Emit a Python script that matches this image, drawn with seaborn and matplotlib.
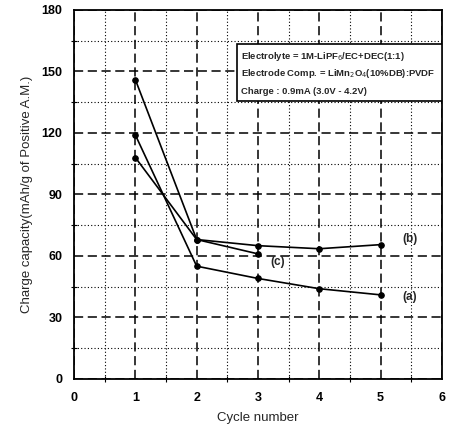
import matplotlib
matplotlib.use("Agg")
import matplotlib.pyplot as plt
import seaborn as sns
import pandas as pd
from matplotlib.ticker import MultipleLocator
from matplotlib.patches import Rectangle

cycles_a = [1, 2, 3, 4, 5]
cap_a = [119, 55, 49, 44, 41]
cycles_b = [1, 2, 3, 4, 5]
cap_b = [146, 68, 65, 63.5, 65.5]
cycles_c = [1, 2, 3]
cap_c = [108, 68, 61]
info_lines = ["Electrolyte = 1M-LiPF$_6$/EC+DEC(1:1)",
              "Electrode Comp. = LiMn$_2$O$_4$(10%DB):PVDF",
              "Charge : 0.9mA (3.0V - 4.2V)"]

df = pd.concat([
    pd.DataFrame({"cycle": cycles_a, "cap": cap_a, "s": "(a)"}),
    pd.DataFrame({"cycle": cycles_b, "cap": cap_b, "s": "(b)"}),
    pd.DataFrame({"cycle": cycles_c, "cap": cap_c, "s": "(c)"}),
])

sns.set_theme(style="white")
plt.rcParams['font.family'] = ['Liberation Sans', 'DejaVu Sans']

fig = plt.figure(figsize=(4.49, 4.34), dpi=100)
ax = fig.add_axes([0.165, 0.127, 0.819, 0.85])

sns.lineplot(data=df, x="cycle", y="cap", units="s", estimator=None,
             color="black", lw=1.2, marker="o", markersize=4,
             markeredgecolor="black", ax=ax, legend=False)

ax.set_xlim(0, 6)
ax.set_ylim(0, 180)
ax.xaxis.set_major_locator(MultipleLocator(1))
ax.xaxis.set_minor_locator(MultipleLocator(0.5))
ax.yaxis.set_major_locator(MultipleLocator(30))
ax.yaxis.set_minor_locator(MultipleLocator(15))
ax.grid(which="major", color="black", ls=(0, (6, 3)), lw=1.1)
ax.grid(which="minor", color="black", ls=(0, (1, 2)), lw=0.8)
ax.set_axisbelow(True)
for sp in ax.spines.values():
    sp.set_color("black")
    sp.set_linewidth(1.3)
ax.tick_params(which="major", direction="inout", length=7, width=1,
               colors="black", labelsize=9, top=False, right=False)
ax.tick_params(which="minor", direction="inout", length=4, width=0.8,
               colors="black", bottom=True, left=True)
for lbl in ax.get_xticklabels() + ax.get_yticklabels():
    lbl.set_fontweight("bold")
ax.tick_params(axis="x", pad=6)
ax.tick_params(axis="y", pad=5)

ax.set_xlabel("Cycle number", fontsize=9.5, labelpad=6)
ax.set_ylabel("Charge capacity(mAh/g of Positive A.M.)", fontsize=9.5, labelpad=6)

ax.text(5.35, 65.5, "(b)", fontsize=8.5, fontweight="bold", va="bottom")
ax.text(3.2, 60, "(c)", fontsize=8.5, fontweight="bold", va="top")
ax.text(5.35, 40, "(a)", fontsize=8.5, fontweight="bold", va="center")

ax.add_patch(Rectangle((0.443, 0.752), 0.557, 0.157, transform=ax.transAxes,
                       fc="white", ec="black", lw=1.2, zorder=3))
for i, (line, yy) in enumerate(zip(info_lines, [0.873, 0.828, 0.780])):
    ax.text(0.455, yy, line, transform=ax.transAxes, fontsize=6.8,
            fontweight="bold", va="center", ha="left", zorder=4)

fig.savefig("out.png", dpi=100)
